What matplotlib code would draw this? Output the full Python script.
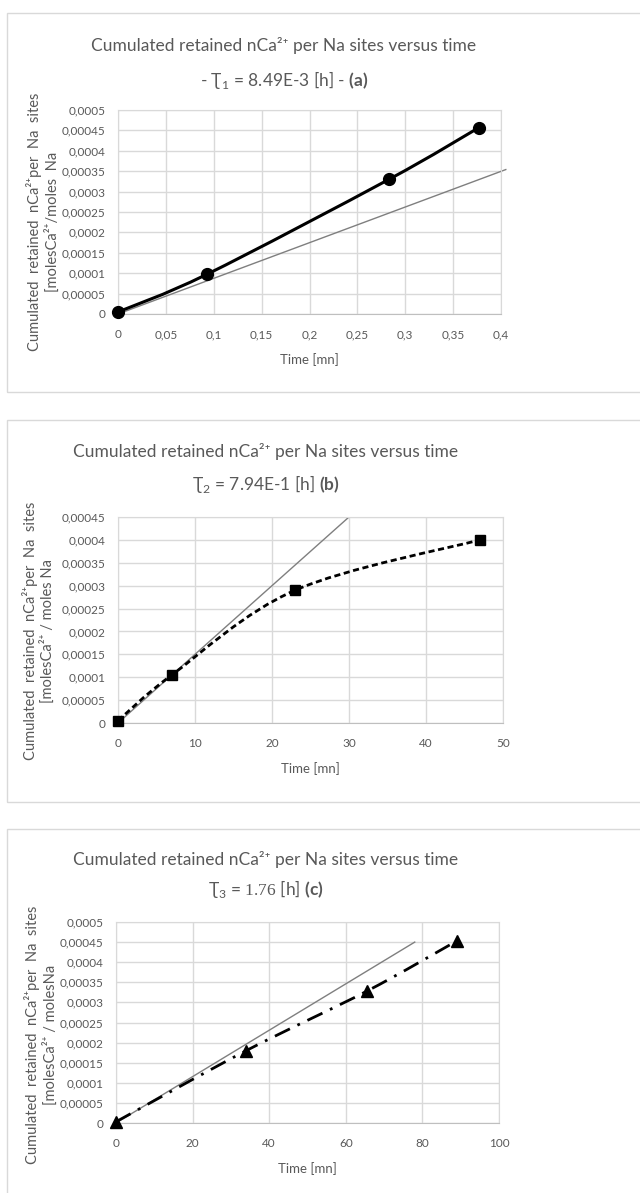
"""
Three Excel-style panels: cumulated retained nCa2+ per Na sites versus time.
"""

import numpy as np
import matplotlib
matplotlib.use("Agg")
import matplotlib.pyplot as plt
from matplotlib.patches import Rectangle, PathPatch
from matplotlib.path import Path
from matplotlib.ticker import FuncFormatter, MultipleLocator

plt.rcParams['font.family'] = ['Lato', 'DejaVu Sans']
plt.rcParams['mathtext.fontset'] = 'custom'
plt.rcParams['mathtext.rm'] = 'Lato'
plt.rcParams['mathtext.bf'] = 'Lato:bold'
plt.rcParams['mathtext.sf'] = 'Liberation Serif'

# ---- data -------------------------------------------------------------
# panel (a)
time_a = [0.0, 0.093, 0.283, 0.377]
ca_a = [0.000005, 0.0000975, 0.00033, 0.000457]
ref_time_a = [0.0, 0.405]
ref_ca_a = [0.0, 0.000354]

# panel (b)
time_b = [0.0, 7.0, 23.0, 47.0]
ca_b = [0.000005, 0.000105, 0.00029, 0.0004]
ref_time_b = [0.0, 30.0]
ref_ca_b = [0.0, 0.00045]

# panel (c)
time_c = [0.0, 34.0, 65.5, 89.0]
ca_c = [0.000003, 0.00018, 0.000328, 0.000453]
ref_time_c = [0.0, 78.0]
ref_ca_c = [0.0, 0.00045]

title_top = "Cumulated retained nCa²⁺ per Na sites versus time"
title_sub = [
    "- Ʈ$_1$ = 8.49E-3 [h] - $\\mathbf{(a)}$",
    "Ʈ$_2$ = 7.94E-1 [h] $\\mathbf{(b)}$",
    "Ʈ$_3$ = $\\mathsf{1.76}$ [h] $\\mathbf{(c)}$",
]
ylabels = [
    "Cumulated  retained  nCa²⁺per  Na  sites\n[molesCa²⁺/moles  Na",
    "Cumulated  retained  nCa²⁺per  Na  sites\n[molesCa²⁺ / moles Na",
    "Cumulated  retained  nCa²⁺per  Na  sites\n[molesCa²⁺ / molesNa",
]

GRAY_TXT = '#595959'
GRID = '#d9d9d9'

W, H = 640, 1193


def fx(px):
    return px / W


def fy(py):
    return 1 - py / H


def smooth_path(x, y):
    """Excel-like smoothed line as Bezier segments through the points."""
    pts = np.column_stack([x, y])
    n = len(pts)
    verts = [pts[0]]
    codes = [Path.MOVETO]
    for i in range(n - 1):
        p0 = pts[max(i - 1, 0)]
        p1 = pts[i]
        p2 = pts[i + 1]
        p3 = pts[min(i + 2, n - 1)]
        c1 = p1 + (p2 - p0) / 6
        c2 = p2 - (p3 - p1) / 6
        verts += [c1, c2, p2]
        codes += [Path.CURVE4] * 3
    return Path(verts, codes)


def num_fmt(v, pos):
    if abs(v) < 1e-12:
        return "0"
    s = f"{v:.5f}".rstrip('0').rstrip('.')
    return s.replace('.', ',')


def style_axes(ax, xmax, xstep, ymax, ystep):
    ax.set_xlim(0, xmax)
    ax.set_ylim(0, ymax)
    ax.xaxis.set_major_locator(MultipleLocator(xstep))
    ax.yaxis.set_major_locator(MultipleLocator(ystep))
    ax.xaxis.set_major_formatter(FuncFormatter(num_fmt))
    ax.yaxis.set_major_formatter(FuncFormatter(num_fmt))
    ax.grid(True, color=GRID, linewidth=1)
    ax.set_axisbelow(True)
    for side in ['top', 'right', 'left']:
        ax.spines[side].set_color(GRID)
    ax.spines['bottom'].set_color('#bfbfbf')
    ax.tick_params(length=0, labelsize=8.5, colors=GRAY_TXT, pad=9)
    ax.tick_params(axis='x', pad=11)
    ax.set_xlabel("Time [mn]", fontsize=9.5, color=GRAY_TXT, labelpad=9)


def add_ylabel(ax, text, xpos, ypos):
    ax.set_ylabel(text, fontsize=10.5, color=GRAY_TXT, linespacing=1.2)
    ax.yaxis.set_label_coords(xpos, ypos)


def add_title(x, y1, y2, sub):
    fig.text(fx(x), fy(y1), title_top, ha='center', va='center',
             fontsize=12.5, color=GRAY_TXT)
    fig.text(fx(x), fy(y2), sub, ha='center', va='center',
             fontsize=12.5, color=GRAY_TXT)


fig = plt.figure(figsize=(W / 100, H / 100), dpi=100)

# chart frames
for top, bottom in [(13, 392), (420, 802), (829, 1200)]:
    fig.add_artist(Rectangle((fx(7), fy(bottom)), fx(640), fy(top) - fy(bottom),
                             transform=fig.transFigure, fill=False,
                             edgecolor=GRID, linewidth=1))

# ---- panel (a) ----
ax_a = fig.add_axes([fx(118), fy(314), fx(501 - 118), fy(110) - fy(314)])
style_axes(ax_a, 0.4, 0.05, 0.0005, 0.00005)
ax_a.plot(ref_time_a, ref_ca_a, color='#7f7f7f', linewidth=1, clip_on=False)
ax_a.add_patch(PathPatch(smooth_path(time_a, ca_a), fill=False,
                         edgecolor='black', linewidth=2.2, zorder=3))
ax_a.plot(time_a, ca_a, linestyle='none', marker='o', markersize=8.5,
          color='black', zorder=4, clip_on=False)
add_ylabel(ax_a, ylabels[0], -0.152, 0.45)
add_title(284, 46, 80, title_sub[0])

# ---- panel (b) ----
ax_b = fig.add_axes([fx(118), fy(723), fx(503 - 118), fy(517) - fy(723)])
style_axes(ax_b, 50, 10, 0.00045, 0.00005)
ax_b.plot(ref_time_b, ref_ca_b, color='#7f7f7f', linewidth=1)
ax_b.add_patch(PathPatch(smooth_path(time_b, ca_b), fill=False,
                         edgecolor='black', linewidth=2, linestyle=(0, (2.2, 1.3)),
                         zorder=3))
ax_b.plot(time_b, ca_b, linestyle='none', marker='s', markersize=7.5,
          color='black', zorder=4, clip_on=False)
add_ylabel(ax_b, ylabels[1], -0.163, 0.447)
add_title(266, 451, 484, title_sub[1])

# ---- panel (c) ----
ax_c = fig.add_axes([fx(116), fy(1123), fx(499 - 116), fy(922) - fy(1123)])
style_axes(ax_c, 100, 20, 0.0005, 0.00005)
ax_c.plot(ref_time_c, ref_ca_c, color='#7f7f7f', linewidth=1)
ax_c.add_patch(PathPatch(smooth_path(time_c, ca_c), fill=False,
                         edgecolor='black', linewidth=2,
                         linestyle=(0, (6, 3, 1, 3)), zorder=3))
ax_c.plot(time_c, ca_c, linestyle='none', marker='^', markersize=8,
          color='black', zorder=4, clip_on=False)
add_ylabel(ax_c, ylabels[2], -0.152, 0.44)
add_title(266, 859, 889, title_sub[2])

fig.savefig("out.png", dpi=100)
